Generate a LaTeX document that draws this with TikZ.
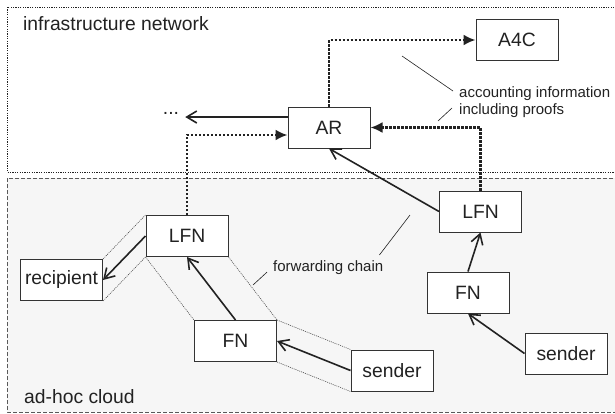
\documentclass[tikz,border=0pt]{standalone}
\usepackage{fontspec}
\setmainfont{Liberation Sans}
\usetikzlibrary{arrows.meta}

\definecolor{ink}{HTML}{222222}
\definecolor{boxline}{HTML}{333333}
\definecolor{cloudfill}{HTML}{F6F6F6}

\tikzset{
  unit/.style={draw=boxline, line width=1pt, fill=white, minimum width=82pt,
    minimum height=41pt, inner sep=0pt, text=ink,
    font=\fontsize{19.3}{22}\selectfont},
  flow/.style={line width=1.6pt, draw=ink,
    -{Straight Barb[length=10pt,width=12pt,line width=1.6pt]}},
  report/.style={line width=2.2pt, draw=ink, dash pattern=on 2.2pt off 1.8pt,
    -{Latex[length=12pt,width=11pt]}},
  chainline/.style={line width=0.6pt, draw=ink!80, dash pattern=on 1pt off 1pt},
  leader/.style={line width=0.6pt, draw=ink},
  zonelabel/.style={anchor=base west, inner sep=0pt, text=ink,
    font=\fontsize{19.3}{22}\selectfont},
  smalllabel/.style={anchor=base west, inner sep=0pt, text=ink,
    font=\fontsize{15}{17}\selectfont}
}

\begin{document}
\begin{tikzpicture}[x=1pt, y=-1pt]
\useasboundingbox (0,0) rectangle (615,413);
\clip (0,0) rectangle (615,413);

% zones
\filldraw[fill=cloudfill, draw=ink!75, line width=0.8pt, dash pattern=on 4pt off 2pt]
  (7,178) rectangle (640,412);
\draw[draw=ink, line width=0.7pt, dash pattern=on 1.2pt off 1.2pt]
  (7,7) rectangle (640,172);
\node[zonelabel] (infra) at (23,30) {infrastructure network};
\node[zonelabel] (cloud) at (24,403) {ad-hoc cloud};

% units
\node[unit] (a4c) at (517,40) {A4C};
\node[unit] (ar) at (329,127.5) {AR};
\node[unit] (lfnA) at (187,236) {LFN};
\node[unit] (rec) at (61.5,280) {recipient};
\node[unit] (fnA) at (235.5,341) {FN};
\node[unit] (sndA) at (392,370.5) {sender};
\node[unit] (lfnB) at (480.5,211.5) {LFN};
\node[unit] (fnB) at (468,292.5) {FN};
\node[unit] (sndB) at (566,353.5) {sender};

% outline of the forwarding chain
\draw[chainline] (lfnA.north west) -- (rec.north east);
\draw[chainline] (lfnA.south west) -- (rec.south east);
\draw[chainline] (lfnA.south west) -- (fnA.north west);
\draw[chainline] (lfnA.south east) -- (fnA.north east);
\draw[chainline] (fnA.north east) -- (sndA.north west);
\draw[chainline] (fnA.south east) -- (sndA.south west);

% onward traffic from the access router
\node[inner xsep=6pt, inner ysep=0pt, text=ink, font=\fontsize{19.3}{22}\selectfont]
  (more) at (171,113) {...};
\draw[flow] ([yshift=10.5pt]ar.west) -- ([yshift=10.5pt]ar.west -| more.east);

% data flow along the chains
\draw[flow] (sndA.west) -- (fnA.east);
\draw[flow] (fnA.north) -- (lfnA.south);
\draw[flow] (lfnA.west) -- (rec.east);
\draw[flow] (sndB.west) -- (fnB.south);
\draw[flow] (fnB.north) -- (lfnB.south);
\draw[flow] (lfnB.west) -- (ar.south);

% accounting reports
\draw[report] (lfnA.north) |- ([yshift=-7.5pt]ar.west);
\draw[report] (lfnB.north) |- (ar.east);
\draw[report] (ar.north) |- (a4c.west);

% annotations
\node[smalllabel] (acc1) at (459,97) {accounting information};
\node[smalllabel] (acc2) at (459,114) {including proofs};
\coordinate (accA) at (402,56);
\coordinate (accB) at (438,121);
\draw[leader] (accA) -- ([xshift=-6pt,yshift=6pt]acc1.base west);
\draw[leader] (accB) -- ([xshift=-7pt,yshift=6pt]acc2.base west);
\node[smalllabel] (fwd) at (273,271) {forwarding chain};
\coordinate (fwdA) at (410,215);
\coordinate (fwdB) at (253,285);
\draw[leader] (fwdA) -- ([xshift=-4pt,yshift=5pt]fwd.north east);
\draw[leader] (fwdB) -- ([xshift=-6pt,yshift=-5pt]fwd.west);
\end{tikzpicture}
\end{document}
